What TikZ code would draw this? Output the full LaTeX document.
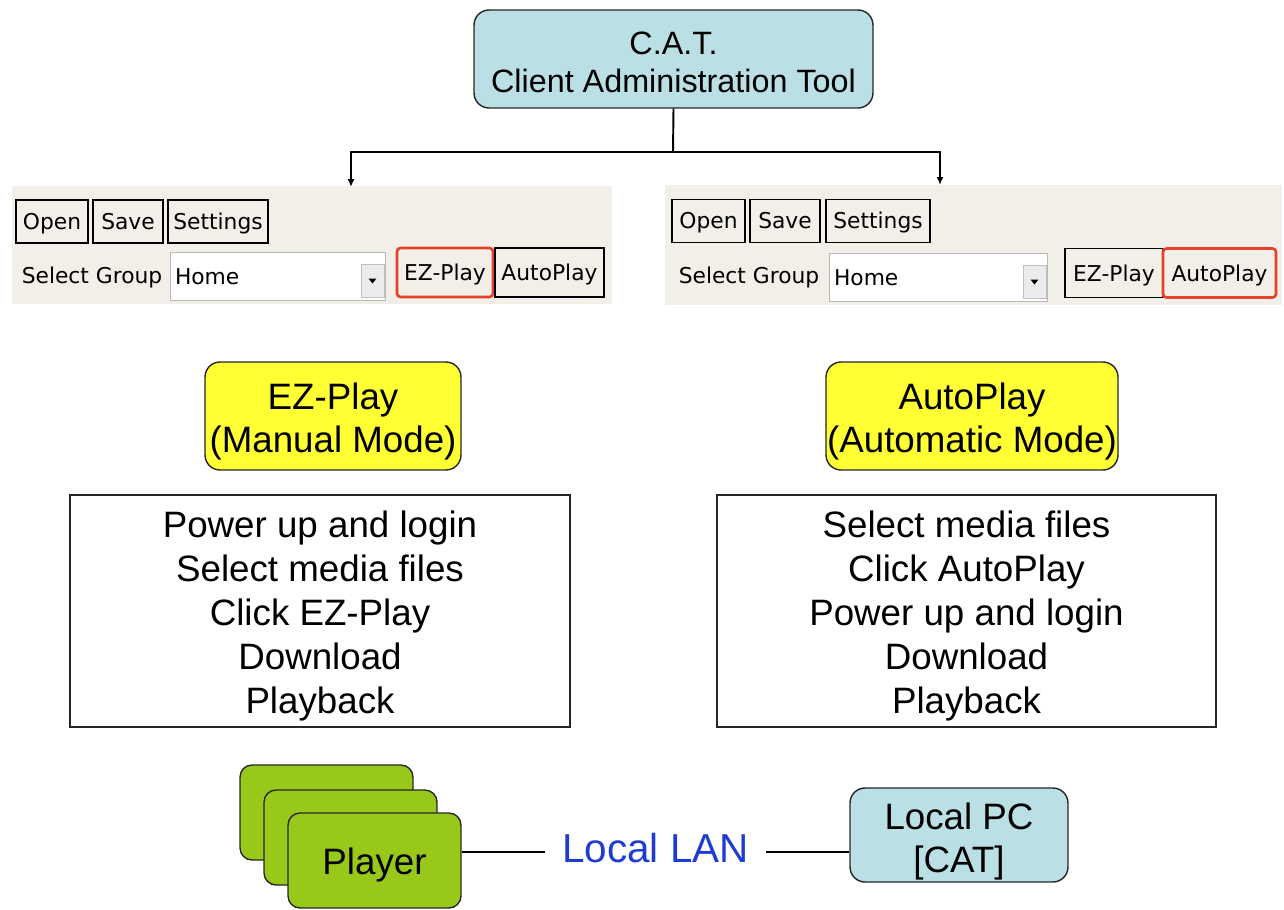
\documentclass[tikz,border=0pt]{standalone}
\usepackage{fontspec}
\setmainfont{Liberation Sans}
\newfontfamily\guifont{DejaVu Sans}
\usetikzlibrary{arrows.meta}

\definecolor{catblue}{RGB}{186,223,228}
\definecolor{modeyellow}{RGB}{255,255,51}
\definecolor{playergreen}{RGB}{152,200,26}
\definecolor{panelgray}{RGB}{241,239,231}
\definecolor{selred}{RGB}{232,65,42}
\definecolor{lanblue}{RGB}{30,60,210}

% invisible strut that pushes a text block down
\newcommand{\topgap}[1]{\rule{0pt}{#1}}

\begin{document}
\begin{tikzpicture}[x=0.02cm,y=-0.02cm]
\tikzstyle{every node}+=[inner sep=0pt]
\tikzstyle{big}=[font=\fontsize{20.9}{24.5}\selectfont, align=center]
\tikzstyle{roundbox}=[big, draw=black!85, line width=0.8pt, rounded corners=0.3cm]
\tikzstyle{gui}=[font=\guifont\fontsize{12.4}{14}\selectfont, text height=0.41cm, text depth=0.09cm]
\tikzstyle{btn}=[gui, draw=black, line width=0.9pt, minimum height=0.86cm]
\tikzstyle{modebtn}=[gui, draw=black, line width=0.9pt, minimum height=0.98cm]
\tikzstyle{redbtn}=[modebtn, draw=selred, line width=1.5pt, rounded corners=2pt]
\tikzstyle{combo}=[gui, fill=white, draw=gray!55, minimum height=0.96cm, align=left]
\tikzstyle{dropbtn}=[fill=gray!15, draw=gray!50, minimum width=0.46cm, minimum height=0.66cm]
\tikzstyle{panel}=[fill=panelgray, minimum height=2.36cm]
\tikzstyle{link}=[line width=1.1pt, -{Latex[length=0.16cm,width=0.14cm]}]
\tikzstyle{steps}=[big, draw=black!85, line width=0.8pt, font=\fontsize{20.9}{25}\selectfont, minimum height=4.64cm]
\tikzstyle{player}=[roundbox, fill=playergreen, rounded corners=0.24cm, minimum width=3.46cm, minimum height=1.9cm]
\useasboundingbox (0,0) rectangle (1284,909);

% top box
\node[roundbox, fill=catblue, font=\fontsize{18.4}{21.5}\selectfont, minimum width=7.98cm, minimum height=1.96cm] (cat) at (673.5,59)
  {\topgap{0.58cm}C.A.T.\\Client Administration Tool};

% toolbars
\node[panel, minimum width=12cm] (leftbar) at (312,245) {};
\node[panel, minimum width=12.34cm, minimum height=2.4cm] (rightbar) at (973.5,245) {};

\coordinate (split) at (673,152);
\coordinate (lhit) at (351,187);
\coordinate (rhit) at (940,185);
\draw[line width=1.1pt] (cat.south) -- (split);
\draw[link] (split) -| (lhit);
\draw[link] (split) -| (rhit);

% left toolbar
\node[btn, minimum width=1.44cm] (lopen) at (52,221.5) {Open};
\node[btn, minimum width=1.4cm] (lsave) at (128,221.5) {Save};
\node[btn, minimum width=2cm] (lsettings) at (218,221.5) {Settings};
\node[gui] (lgroup) at (92,275) {Select Group};
\node[combo, minimum width=4.3cm, text width=4.1cm] (lcombo) at (277.5,276) {Home};
\node[dropbtn, anchor=south east] (ldrop) at ([xshift=-0.02cm,yshift=0.06cm]lcombo.south east) {};
\fill (ldrop.center) ++(-4,-2) -- ++(8,0) -- ++(-4,5) -- cycle;
\node[redbtn, minimum width=1.92cm] (lezplay) at (445,272.5) {EZ-Play};
\node[modebtn, minimum width=2.18cm] (lautoplay) at (549.5,272.5) {AutoPlay};

% right toolbar
\node[btn, minimum width=1.46cm] (ropen) at (708.5,221) {Open};
\node[btn, minimum width=1.4cm] (rsave) at (785,221) {Save};
\node[btn, minimum width=2.08cm] (rsettings) at (878,221) {Settings};
\node[gui] (rgroup) at (749,275) {Select Group};
\node[combo, minimum width=4.36cm, text width=4.16cm] (rcombo) at (938,277) {Home};
\node[dropbtn, anchor=south east] (rdrop) at ([xshift=-0.02cm,yshift=0.06cm]rcombo.south east) {};
\fill (rdrop.center) ++(-4,-2) -- ++(8,0) -- ++(-4,5) -- cycle;
\node[modebtn, minimum width=1.96cm] (rezplay) at (1114,273) {EZ-Play};
\node[redbtn, minimum width=2.26cm] (rautoplay) at (1219.5,273) {AutoPlay};

% modes
\node[roundbox, fill=modeyellow, minimum width=5.12cm, minimum height=2.16cm] (ezmode) at (333,416)
  {\topgap{0.77cm}EZ-Play\\(Manual Mode)};
\node[roundbox, fill=modeyellow, minimum width=5.84cm, minimum height=2.16cm] (automode) at (972,416)
  {\topgap{0.77cm}AutoPlay\\(Automatic Mode)};

% steps
\node[steps, minimum width=10cm] (ezsteps) at (320,611)
  {\topgap{0.73cm}Power up and login\\Select media files\\Click EZ-Play\\Download\\Playback};
\node[steps, minimum width=9.98cm] (autosteps) at (966.5,611)
  {\topgap{0.73cm}Select media files\\Click AutoPlay\\Power up and login\\Download\\Playback};

% network
\node[player] (player1) at (326.5,812.5) {};
\node[player] (player2) at (350.5,837.5) {};
\node[player] (player3) at (374.5,860.5) {\topgap{0.73cm}Player};
\node[roundbox, fill=catblue, minimum width=4.36cm, minimum height=1.88cm] (localpc) at (959,835)
  {\topgap{0.81cm}Local PC\\{[CAT]}};
\node[font=\fontsize{23}{26}\selectfont, text=lanblue, inner xsep=0.34cm] (lan) at (655.5,848) {Local LAN};
\draw[line width=1.1pt] (lan.west |- 0,852) -- (player3.east |- 0,852);
\draw[line width=1.1pt] (lan.east |- 0,852) -- (localpc.west |- 0,852);
\end{tikzpicture}
\end{document}
